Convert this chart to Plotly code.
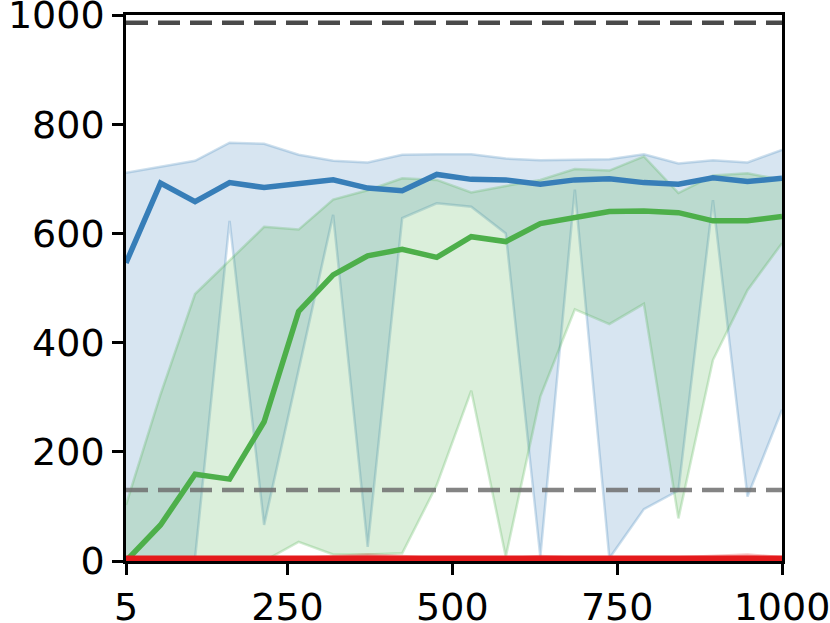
import numpy as np
import plotly.graph_objects as go

steps = np.linspace(5, 1000, 20).tolist()

blue_mean = [546, 692, 658, 693, 684, 690, 698, 683, 678, 708, 699, 698, 690, 698, 700, 693, 690, 702, 695, 701]
blue_upper = [711, 722, 733, 766, 764, 744, 733, 730, 744, 745, 745, 737, 734, 735, 736, 745, 728, 734, 730, 753]
blue_lower = [0, 0, 5, 623, 66, 350, 634, 26, 628, 655, 649, 600, 8, 680, 5, 95, 129, 661, 118, 277]

green_mean = [0, 66, 159, 150, 255, 457, 524, 559, 571, 556, 594, 585, 618, 629, 640, 641, 638, 623, 623, 631]
green_upper = [103, 305, 489, 550, 612, 607, 662, 679, 701, 698, 675, 687, 698, 718, 715, 741, 674, 706, 710, 698]
green_lower = [0, 0, 0, 0, 0, 35, 12, 12, 14, 139, 312, 8, 301, 461, 434, 471, 78, 368, 496, 582]

red_mean = [1, 1, 1, 1, 1, 1, 2, 2, 2, 1, 1, 1, 2, 1, 1, 1, 1, 2, 2, 1]
red_upper = [4, 4, 4, 4, 4, 5, 9, 12, 9, 5, 5, 5, 9, 6, 5, 5, 7, 9, 12, 7]
red_lower = [0] * 20

upper_ref = 986
lower_ref = 130

x_ticks = [5, 250, 500, 750, 1000]
y_ticks = [0, 200, 400, 600, 800, 1000]

series = [
    (blue_lower, blue_upper, blue_mean, "55,126,184", 5.5),
    (green_lower, green_upper, green_mean, "77,175,74", 5.5),
    (red_lower, red_upper, red_mean, "228,26,28", 10),
]

fig = go.Figure()
for lo, up, mean, rgb, lw in series:
    fig.add_trace(go.Scatter(x=steps, y=lo, mode="lines",
                             line=dict(color=f"rgba({rgb},0.25)", width=2.5),
                             showlegend=False, hoverinfo="skip"))
    fig.add_trace(go.Scatter(x=steps, y=up, mode="lines", fill="tonexty",
                             fillcolor=f"rgba({rgb},0.2)",
                             line=dict(color=f"rgba({rgb},0.25)", width=2.5),
                             showlegend=False, hoverinfo="skip"))

fig.add_trace(go.Scatter(x=[steps[0], steps[-1]], y=[upper_ref, upper_ref], mode="lines",
                         line=dict(color="rgba(64,64,64,0.95)", width=4.5, dash="22px,10px"),
                         showlegend=False))
fig.add_trace(go.Scatter(x=[steps[0], steps[-1]], y=[lower_ref, lower_ref], mode="lines",
                         line=dict(color="rgba(110,110,110,0.85)", width=4.5, dash="22px,10px"),
                         showlegend=False))

for lo, up, mean, rgb, lw in series:
    fig.add_trace(go.Scatter(x=steps, y=mean, mode="lines",
                             line=dict(color=f"rgb({rgb})", width=lw),
                             showlegend=False))

axis_common = dict(showline=True, linecolor="black", linewidth=2.5, mirror=True,
                   ticks="outside", ticklen=11, tickwidth=2.5, tickcolor="black",
                   showgrid=False, zeroline=False, automargin=False,
                   ticklabeloverflow="allow", layer="below traces",
                   tickfont=dict(family="DejaVu Sans", size=38, color="black"))

fig.update_layout(
    width=830, height=623,
    margin=dict(l=126, r=48, t=15, b=62),
    plot_bgcolor="white", paper_bgcolor="white",
    xaxis=dict(range=[5, 1000], tickvals=x_ticks, ticktext=[str(t) for t in x_ticks], **axis_common),
    yaxis=dict(range=[0, 1000], tickvals=y_ticks, ticktext=[str(t) for t in y_ticks], **axis_common),
)

fig.write_html("out.html", config={"displayModeBar": False},
               post_script="document.body.style.margin='0px';document.body.style.padding='0px';document.body.style.overflow='hidden';")
